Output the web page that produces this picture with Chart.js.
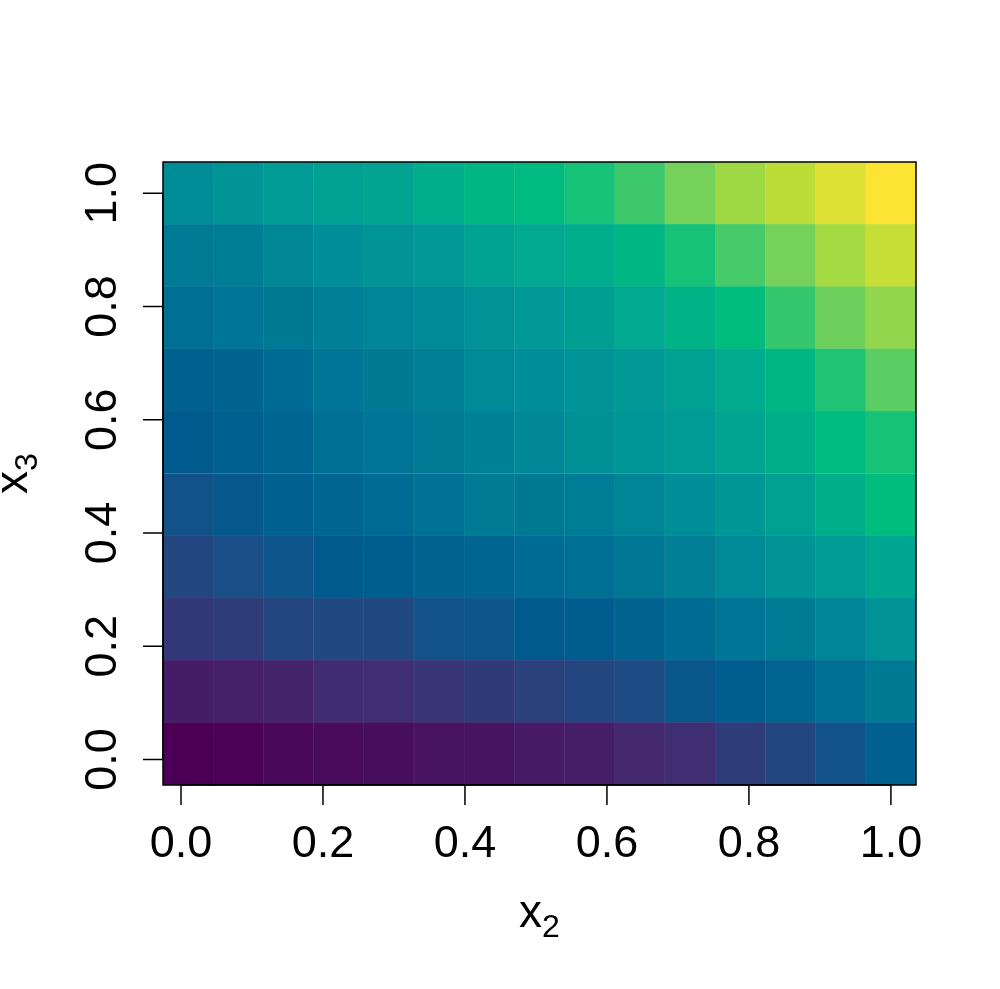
<!DOCTYPE html>
<html>
<head>
<meta charset="utf-8">
<script src="https://cdn.jsdelivr.net/npm/chart.js@4.4.0/dist/chart.umd.min.js"></script>
<style>
  html, body { margin: 0; padding: 0; background: #fff; }
  canvas { display: block; }
</style>
</head>
<body>
<canvas id="heatChart" width="1000" height="989"></canvas>
<script>
// grid of the image (cell centres)
const x2Values = [0.01, 0.0807, 0.1514, 0.2221, 0.2929, 0.3636, 0.4343, 0.505, 0.5757, 0.6464, 0.7171, 0.7879, 0.8586, 0.9293, 1.0];
const x3Values = [0.01, 0.12, 0.23, 0.34, 0.45, 0.56, 0.67, 0.78, 0.89, 1.0];

const xTicks = [0, 0.2, 0.4, 0.6, 0.8, 1.0];
const xTickLabels = ['0.0', '0.2', '0.4', '0.6', '0.8', '1.0'];
const yTicks = [0, 0.2, 0.4, 0.6, 0.8, 1.0];
const yTickLabels = ['0.0', '0.2', '0.4', '0.6', '0.8', '1.0'];

// cell values (0 = lowest colour, 1 = highest), one row per x3, bottom to top
const zRow01 = [0.00, 0.005, 0.02, 0.03, 0.035, 0.045, 0.05, 0.065, 0.075, 0.10, 0.12, 0.16, 0.19, 0.23, 0.28];
const zRow12 = [0.07, 0.08, 0.09, 0.115, 0.12, 0.14, 0.155, 0.175, 0.19, 0.21, 0.245, 0.27, 0.295, 0.33, 0.365];
const zRow23 = [0.15, 0.16, 0.19, 0.20, 0.20, 0.23, 0.24, 0.26, 0.265, 0.29, 0.315, 0.35, 0.375, 0.41, 0.46];
const zRow34 = [0.19, 0.22, 0.24, 0.26, 0.27, 0.29, 0.30, 0.315, 0.33, 0.36, 0.39, 0.43, 0.47, 0.50, 0.55];
const zRow45 = [0.23, 0.25, 0.28, 0.30, 0.315, 0.34, 0.37, 0.365, 0.38, 0.41, 0.445, 0.48, 0.52, 0.59, 0.66];
const zRow56 = [0.26, 0.28, 0.30, 0.33, 0.35, 0.37, 0.40, 0.42, 0.455, 0.475, 0.50, 0.54, 0.59, 0.65, 0.69];
const zRow67 = [0.28, 0.29, 0.32, 0.35, 0.365, 0.39, 0.425, 0.445, 0.465, 0.49, 0.52, 0.57, 0.63, 0.70, 0.76];
const zRow78 = [0.33, 0.35, 0.365, 0.39, 0.41, 0.43, 0.46, 0.49, 0.51, 0.56, 0.61, 0.66, 0.72, 0.78, 0.83];
const zRow89 = [0.37, 0.38, 0.42, 0.445, 0.47, 0.49, 0.53, 0.56, 0.58, 0.63, 0.69, 0.74, 0.79, 0.86, 0.91];
const zRow100 = [0.44, 0.47, 0.50, 0.52, 0.54, 0.58, 0.63, 0.65, 0.69, 0.73, 0.79, 0.85, 0.89, 0.95, 1.00];
const zRows = [zRow01, zRow12, zRow23, zRow34, zRow45, zRow56, zRow67, zRow78, zRow89, zRow100];

// hcl "viridis"-like palette: stop positions and colours
const palettePos = [0, 0.111, 0.222, 0.26, 0.333, 0.444, 0.556, 0.667, 0.778, 0.889, 1];
const paletteHex = ['#4B0055', '#422C70', '#185086', '#005A8E', '#007094', '#008E98', '#00A890', '#00BE7D', '#6CD05E', '#BBDD38', '#FDE333'];

function hexToRgb(h) {
    return [parseInt(h.slice(1, 3), 16), parseInt(h.slice(3, 5), 16), parseInt(h.slice(5, 7), 16)];
}

function colourAt(t, lift) {
    t = Math.max(0, Math.min(1, t));
    let i = 0;
    while (i < palettePos.length - 2 && t > palettePos[i + 1]) i++;
    const f = (t - palettePos[i]) / (palettePos[i + 1] - palettePos[i]);
    const a = hexToRgb(paletteHex[i]);
    const b = hexToRgb(paletteHex[i + 1]);
    const rgb = a.map((v, k) => v + (b[k] - v) * f).map(v => Math.round(v + (255 - v) * (lift || 0)));
    return `rgb(${rgb[0]},${rgb[1]},${rgb[2]})`;
}

const halfX = (x2Values[1] - x2Values[0]) / 2;
const halfY = (x3Values[1] - x3Values[0]) / 2;
const FONT = '"Liberation Sans", Arial, sans-serif';

const datasets = x3Values.map((y3, r) => ({
    label: 'x3 = ' + y3,
    data: x2Values.map(x => ({ x: x, y: [y3 - halfY, y3 + halfY] })),
    backgroundColor: zRows[r].map(z => colourAt(z)),
    borderColor: zRows[r].map(z => colourAt(z, 0.1)),
    borderWidth: 0.5,
    borderSkipped: false,
    grouped: false,
    categoryPercentage: 1,
    barPercentage: 1
}));

const axesPlugin = {
    id: 'baseAxes',
    afterDraw(chart) {
        const ctx = chart.ctx;
        const { left, right, top, bottom } = chart.chartArea;
        const xs = chart.scales.x;
        const ys = chart.scales.y;
        ctx.save();
        ctx.strokeStyle = '#000';
        ctx.fillStyle = '#000';
        ctx.lineWidth = 1.5;
        ctx.strokeRect(left, top, right - left, bottom - top);

        // x axis
        const xp = xTicks.map(v => xs.getPixelForValue(v));
        ctx.beginPath();
        ctx.moveTo(xp[0], bottom);
        ctx.lineTo(xp[xp.length - 1], bottom);
        xp.forEach(p => { ctx.moveTo(p, bottom); ctx.lineTo(p, bottom + 20); });
        ctx.stroke();
        ctx.font = '45px ' + FONT;
        ctx.textAlign = 'center';
        ctx.textBaseline = 'alphabetic';
        xp.forEach((p, i) => ctx.fillText(xTickLabels[i], p, bottom + 72));

        // y axis
        const yp = yTicks.map(v => ys.getPixelForValue(v));
        ctx.beginPath();
        ctx.moveTo(left, yp[0]);
        ctx.lineTo(left, yp[yp.length - 1]);
        yp.forEach(p => { ctx.moveTo(left, p); ctx.lineTo(left - 20, p); });
        ctx.stroke();
        yp.forEach((p, i) => {
            ctx.save();
            ctx.translate(left - 47, p);
            ctx.rotate(-Math.PI / 2);
            ctx.fillText(yTickLabels[i], 0, 0);
            ctx.restore();
        });

        // axis titles with subscripts
        const drawTitle = (sub) => {
            ctx.font = '46px ' + FONT;
            const wx = ctx.measureText('x').width;
            ctx.font = '32px ' + FONT;
            const ws = ctx.measureText(sub).width;
            const start = -(wx + ws) / 2;
            ctx.textAlign = 'left';
            ctx.font = '46px ' + FONT;
            ctx.fillText('x', start, 0);
            ctx.font = '32px ' + FONT;
            ctx.fillText(sub, start + wx, 10);
        };
        ctx.save();
        ctx.translate((left + right) / 2, bottom + 142);
        drawTitle('2');
        ctx.restore();
        ctx.save();
        ctx.translate(27, (top + bottom) / 2);
        ctx.rotate(-Math.PI / 2);
        drawTitle('3');
        ctx.restore();
        ctx.restore();
    }
};

new Chart(document.getElementById('heatChart').getContext('2d'), {
    type: 'bar',
    data: { datasets: datasets },
    options: {
        responsive: false,
        animation: false,
        layout: { padding: { left: 163, top: 162, right: 84, bottom: 204 } },
        plugins: { legend: { display: false }, tooltip: { enabled: false } },
        scales: {
            x: {
                type: 'linear',
                display: false,
                offset: false,
                min: x2Values[0] - halfX,
                max: x2Values[x2Values.length - 1] + halfX,
                afterBuildTicks: s => { s.ticks = xTicks.map(v => ({ value: v })); }
            },
            y: {
                type: 'linear',
                display: false,
                min: x3Values[0] - halfY,
                max: x3Values[x3Values.length - 1] + halfY,
                afterBuildTicks: s => { s.ticks = yTicks.map(v => ({ value: v })); }
            }
        }
    },
    plugins: [axesPlugin]
});
</script>
</body>
</html>
